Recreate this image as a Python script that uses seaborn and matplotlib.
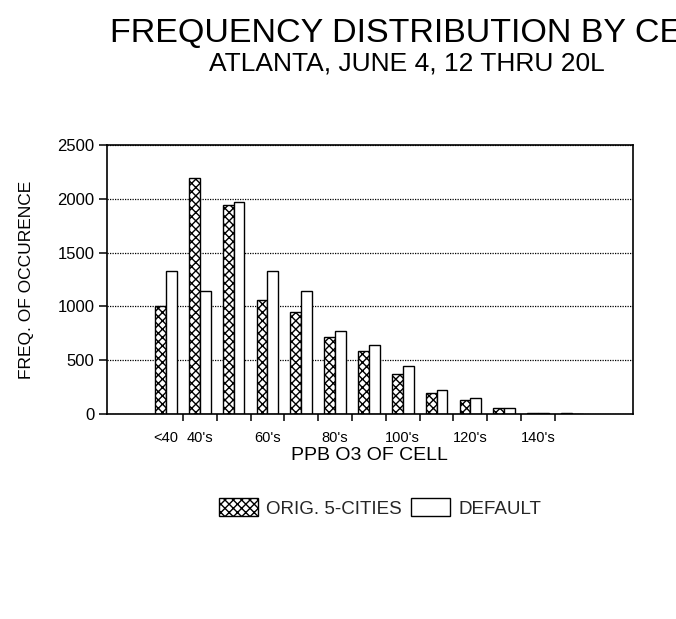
import numpy as np
import pandas as pd
import matplotlib
matplotlib.use("Agg")
import matplotlib.pyplot as plt
import seaborn as sns
from matplotlib.patches import Patch

# ==== data ====
bins = ["<40", "40's", "50's", "60's", "70's", "80's", "90's",
        "100's", "110's", "120's", "130's", "140's", "150's"]
tick_labels = ["<40", "40's", "", "60's", "", "80's", "",
               "100's", "", "120's", "", "140's", ""]
series = ["ORIG. 5-CITIES", "DEFAULT"]
orig = [1000, 2190, 1940, 1060, 950, 720, 590, 375, 200, 135, 60, 12, 6]
default = [1330, 1140, 1970, 1330, 1140, 770, 640, 450, 225, 150, 60, 10, 5]

df = pd.DataFrame({
    "bin": bins * 2,
    "freq": orig + default,
    "series": [series[0]] * len(bins) + [series[1]] * len(bins),
})

# ==== style ====
sns.set_theme(style="white")
plt.rcParams["font.family"] = ["Liberation Sans", "DejaVu Sans"]
plt.rcParams["hatch.linewidth"] = 1.0
plt.rcParams["hatch.color"] = "black"

fig = plt.figure(figsize=(6.76, 6.19), dpi=100)
ax = fig.add_axes([0.158, 0.331, 0.778, 0.435])

sns.barplot(data=df, x="bin", y="freq", hue="series", order=bins,
            hue_order=series, palette=["white", "white"], saturation=1,
            edgecolor="black", linewidth=1.0, width=0.64, legend=False, ax=ax)

for bar in ax.containers[0]:
    bar.set_hatch("xxxx")

# ==== axes ====
ax.set_xlim(-1.75, 13.8)
ax.set_ylim(0, 2500)
ax.set_yticks(np.arange(0, 2501, 500))
ax.yaxis.grid(True, linestyle=(0, (1, 1)), color="black", linewidth=0.9)
ax.xaxis.grid(False)
ax.set_axisbelow(True)

for s in ax.spines.values():
    s.set_color("black")
    s.set_linewidth(1.2)

ax.set_xticks(np.arange(0.5, 12, 1))
ax.set_xticklabels([])
ax.set_xticks(np.arange(len(bins)), minor=True)
ax.set_xticklabels(tick_labels, minor=True)
ax.tick_params(axis="x", which="major", bottom=True, direction="out",
               length=5, width=1.1, color="black")
ax.tick_params(axis="x", which="minor", bottom=True, length=0, pad=12,
               labelsize=10.5, labelcolor="black")
ax.tick_params(axis="y", left=True, direction="out", length=6, width=1.1,
               color="black", labelsize=12, labelcolor="black", pad=3)

ax.set_xlabel("PPB O3 OF CELL", fontsize=14, color="black")
ax.xaxis.set_label_coords(0.5, -0.124)
ax.set_ylabel("FREQ. OF OCCURENCE", fontsize=12.5, color="black")
ax.yaxis.set_label_coords(-0.138, 0.5)

# ==== titles ====
fig.text(110 / 676, 1 - 42 / 619, "FREQUENCY DISTRIBUTION BY CELL",
         ha="left", va="baseline", fontsize=24.5, color="black")
fig.text(407 / 676, 1 - 70 / 619, "ATLANTA, JUNE 4, 12 THRU 20L",
         ha="center", va="baseline", fontsize=19, color="black")

# ==== legend ====
handles = [Patch(facecolor="white", edgecolor="black", hatch="xxxx", linewidth=1.0),
           Patch(facecolor="white", edgecolor="black", linewidth=1.0)]
fig.legend(handles, series, loc="center", bbox_to_anchor=(380 / 676, 1 - 508 / 619),
           ncol=2, frameon=False, fontsize=13.5, handlelength=2.1, handleheight=1.1,
           handletextpad=0.45, columnspacing=0.45)

fig.savefig("out.png", dpi=100)
